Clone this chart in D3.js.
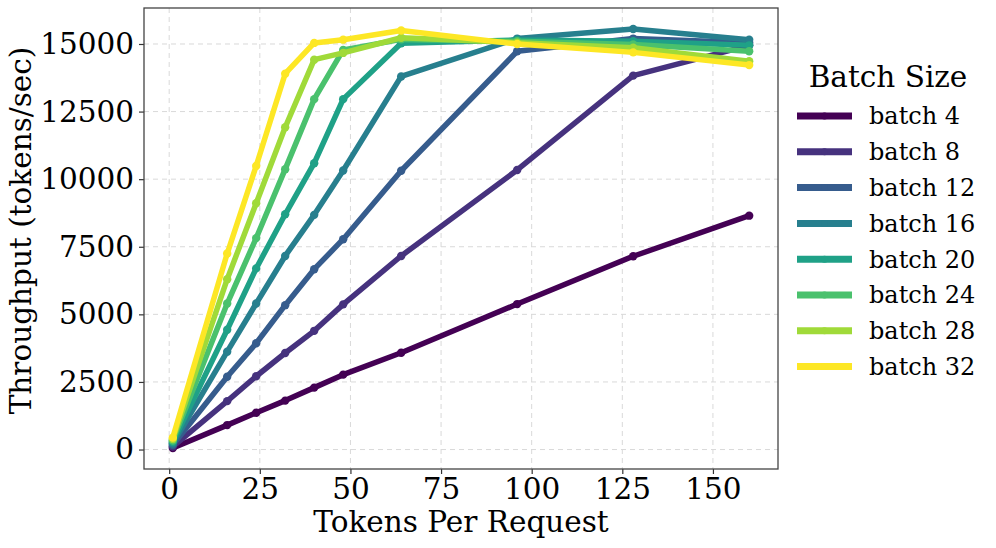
<!DOCTYPE html>
<meta charset="utf-8">
<style>
body { margin: 0; background: #fff; }
svg { font-family: "DejaVu Serif", serif; }
.tick text { font-size: 29.5px; fill: #000; }
.grid line { stroke: #d9d9d9; stroke-dasharray: 5,4; stroke-width: 1; }
.legend text { font-size: 24px; }
</style>
<svg width="996" height="548"></svg>
<script src="https://d3js.org/d3.v7.min.js"></script>
<script>

var tokens = [1, 16, 24, 32, 40, 48, 64, 96, 128, 160];
var batches = ["batch 4", "batch 8", "batch 12", "batch 16", "batch 20", "batch 24", "batch 28", "batch 32"];

var batch4  = [55, 904, 1360, 1810, 2290, 2770, 3580, 5380, 7150, 8650];
var batch8  = [110, 1790, 2710, 3570, 4390, 5370, 7160, 10340, 13830, 14950];
var batch12 = [165, 2690, 3930, 5340, 6670, 7780, 10310, 14730, 15200, 15050];
var batch16 = [220, 3620, 5400, 7160, 8680, 10320, 13800, 15200, 15556, 15160];
var batch20 = [275, 4430, 6700, 8700, 10590, 12960, 15030, 15150, 15100, 14950];
var batch24 = [330, 5400, 7820, 10370, 12960, 14780, 15170, 15100, 14980, 14730];
var batch28 = [385, 6300, 9110, 11920, 14420, 14670, 15230, 15050, 14860, 14360];
var batch32 = [440, 7250, 10490, 13900, 15040, 15160, 15500, 15000, 14690, 14220];

var series = [batch4, batch8, batch12, batch16, batch20, batch24, batch28, batch32];
var colors = ["#440154", "#46327e", "#365c8d", "#277f8e", "#1fa187", "#4ac16d", "#a0da39", "#fde725"];

var yTicks = [0, 2500, 5000, 7500, 10000, 12500, 15000];
var xTicks = [0, 25, 50, 75, 100, 125, 150];

var svg = d3.select("svg"),
    margin = {left: 144, right: 218, top: 8, bottom: 79},
    width = 996 - margin.left - margin.right,
    height = 548 - margin.top - margin.bottom;

var g = svg.append("g").attr("transform", "translate(" + margin.left + "," + margin.top + ")");

// matplotlib style 5% padding
var xmin = d3.min(tokens), xmax = d3.max(tokens), xpad = (xmax - xmin) * 0.05;
var allY = d3.merge(series);
var ymin = d3.min(allY), ymax = d3.max(allY), ypad = (ymax - ymin) * 0.05;

var x = d3.scaleLinear().domain([xmin - xpad, xmax + xpad]).range([0, width]);
var y = d3.scaleLinear().domain([ymin - ypad, ymax + ypad]).range([height, 0]);

// grid
g.append("g").attr("class", "grid")
  .selectAll("line.v").data(xTicks).enter().append("line")
    .attr("x1", x).attr("x2", x).attr("y1", 0).attr("y2", height);
g.select(".grid")
  .selectAll("line.h").data(yTicks).enter().append("line")
    .attr("y1", y).attr("y2", y).attr("x1", 0).attr("x2", width);

// axes
var xAxis = g.append("g")
    .attr("transform", "translate(0," + height + ")")
    .call(d3.axisBottom(x).tickValues(xTicks).tickSize(5).tickPadding(4));
var yAxis = g.append("g")
    .call(d3.axisLeft(y).tickValues(yTicks).tickSize(5).tickPadding(5).tickFormat(d3.format("d")));
[xAxis, yAxis].forEach(function(a) {
  a.select(".domain").remove();
  a.selectAll(".tick line").attr("stroke", "#333").attr("stroke-width", 1.2);
  a.attr("font-family", null).attr("font-size", null);
});

// lines
var line = d3.line()
    .x(function(d, i) { return x(tokens[i]); })
    .y(function(d) { return y(d); });

series.forEach(function(s, k) {
  g.append("path")
      .datum(s)
      .attr("fill", "none")
      .attr("stroke", colors[k])
      .attr("stroke-width", 5.5)
      .attr("stroke-linejoin", "round")
      .attr("d", line);
  g.selectAll(".dot" + k).data(s).enter().append("circle")
      .attr("cx", function(d, i) { return x(tokens[i]); })
      .attr("cy", function(d) { return y(d); })
      .attr("r", 4.2)
      .attr("fill", colors[k]);
});

// frame
g.append("rect")
    .attr("width", width).attr("height", height)
    .attr("fill", "none").attr("stroke", "#444").attr("stroke-width", 1.3);

// axis labels
svg.append("text")
    .attr("x", margin.left + width / 2).attr("y", 532)
    .attr("text-anchor", "middle").attr("font-size", 29.5)
    .text("Tokens Per Request");
svg.append("text")
    .attr("transform", "translate(31," + (margin.top + height / 2 - 8) + ") rotate(-90)")
    .attr("text-anchor", "middle").attr("font-size", 29.5)
    .text("Throughput (tokens/sec)");

// legend
var legend = svg.append("g").attr("class", "legend").attr("transform", "translate(797,0)");
legend.append("text")
    .attr("x", 91).attr("y", 87)
    .attr("text-anchor", "middle")
    .style("font-size", "29.5px")
    .text("Batch Size");
var item = legend.selectAll(".item").data(batches).enter().append("g")
    .attr("class", "item")
    .attr("transform", function(d, i) { return "translate(0," + (116 + i * 35.8) + ")"; });
item.append("line")
    .attr("x1", 0).attr("x2", 55)
    .attr("stroke", function(d, i) { return colors[i]; })
    .attr("stroke-width", 7);
item.append("circle")
    .attr("cx", 27.5).attr("r", 3.5)
    .attr("fill", function(d, i) { return colors[i]; });
item.append("text")
    .attr("x", 72).attr("dy", "0.35em")
    .text(function(d) { return d; });

</script>
